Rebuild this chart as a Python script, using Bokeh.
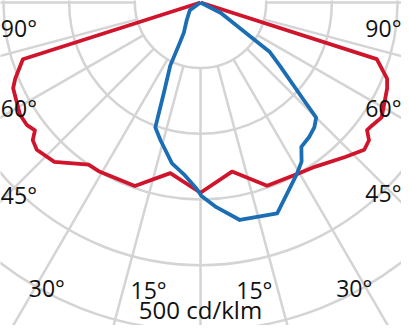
import numpy as np
from bokeh.plotting import figure
from bokeh.models import Range1d, ColumnDataSource
from bokeh.core.properties import value
from bokeh.embed import file_html
from bokeh.resources import INLINE

# Polar grid (cd/klm, degrees from nadir; negative = left half)
ring_values = [100, 200, 300, 400, 500, 600]
spoke_angles = list(range(0, 360, 15))

# C0-C180 plane (red)
red_angles = [-90, -72.2, -67.6, -65.3, -58, -54.6, -52.2, -50.5, -47.9, -42.4, -34.5, -31,
              -19.6, -10, 0, 10.5, 19.9, 29.7, 34.9, 43.0, 47.9, 50.6, 52.4, 53.5, 57.5,
              65.2, 67.7, 72.1, 90]
red_values = [0, 284, 305, 314, 324, 324, 319, 331, 336, 330, 301, 301,
              298, 265, 291, 263, 298, 301, 306, 323, 336, 332, 320, 321, 327,
              313, 307, 282, 0]

# C90-C270 plane (blue)
blue_angles = [-60, -54, -38, -28.7, -27.1, -25.5, -22.1, -19.8, -16.2, -10, -5.5, -1.2, 0.3,
               4.4, 10.2, 19.9, 24.2, 29.1, 32.3, 34.8, 38.8, 42.2, 45, 46.7, 51.3, 54.3,
               55.5, 62.4, 70]
blue_values = [0, 20, 34, 53, 69, 107, 147, 203, 219, 250, 264, 285, 296,
               314, 338, 343, 321, 301, 288, 269, 264, 258, 249, 213, 155, 130,
               92, 35, 0]

# Angle labels
label_texts = ["90°", "60°", "45°", "30°", "15°", "15°", "30°", "45°", "60°", "90°"]
label_x = [-304, -304, -304, -234, -79, 82, 234, 306, 306, 306]
label_y = [-39, -161, -295, -436, -439, -439, -437, -292, -161, -39]
label_align = ["left", "left", "left", "center", "center", "center", "center", "right", "right", "right"]
scale_text = ["500 cd/klm"]

GRID = "#d4d4d4"
RED = "#d0142c"
BLUE = "#1b6db4"

p = figure(width=401, height=325, x_range=Range1d(-304.5, 306.0), y_range=Range1d(-494.0, 2.99),
           output_backend="svg", toolbar_location=None, x_axis_location=None, y_axis_location=None,
           min_border=0)
p.xgrid.visible = False
p.ygrid.visible = False
p.outline_line_color = None
p.background_fill_color = "white"

# rings
p.circle(x=[0] * len(ring_values), y=[0] * len(ring_values), radius=ring_values,
         fill_color=None, line_color=GRID, line_width=2.5)

# spokes from first ring outward
r0, r1 = ring_values[0], 800
th = np.radians(spoke_angles)
p.segment(x0=r0 * np.sin(th), y0=-r0 * np.cos(th), x1=r1 * np.sin(th), y1=-r1 * np.cos(th),
          line_color=GRID, line_width=2.5)

def to_xy(angles, vals):
    a = np.radians(np.array(angles, dtype=float))
    v = np.array(vals, dtype=float)
    return v * np.sin(a), -v * np.cos(a)

rx, ry = to_xy(red_angles, red_values)
p.line(rx, ry, line_color=RED, line_width=3.8, line_join="round")
bx, by = to_xy(blue_angles, blue_values)
p.line(bx, by, line_color=BLUE, line_width=3.8, line_join="round")

src = ColumnDataSource(dict(x=label_x, y=label_y, t=label_texts, a=label_align))
p.text(x="x", y="y", text="t", text_align="a", text_baseline="middle", source=src,
       text_font=value("Open Sans"), text_font_size="23px", text_color="#111111")
p.text(x=[0], y=[-469], text=scale_text, text_align="center", text_baseline="middle",
       text_font=value("Open Sans"), text_font_size="24px", text_color="#111111")

open("out.html", "w").write(file_html(p, INLINE))
